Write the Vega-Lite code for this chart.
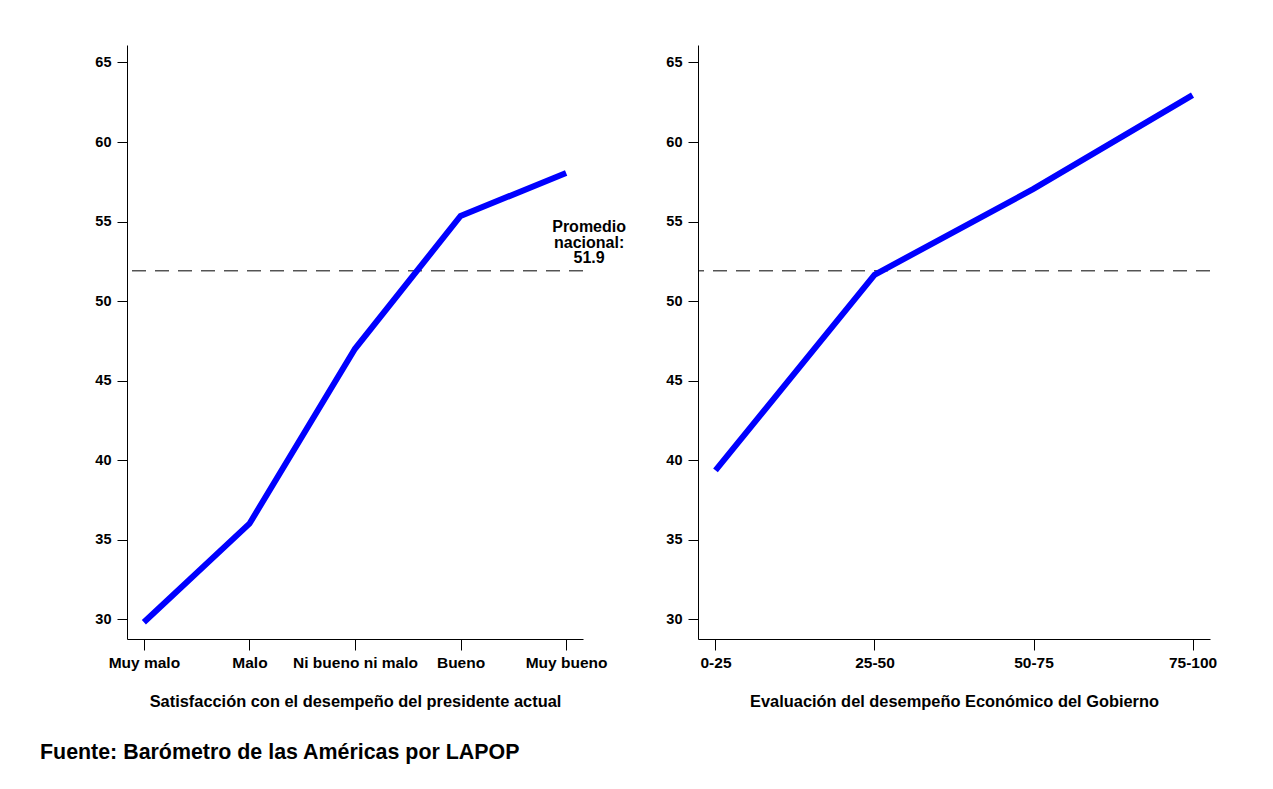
{
  "$schema": "https://vega.github.io/schema/vega-lite/v6.json",
  "background": "white",
  "padding": {"left": 40, "top": 45, "right": 20, "bottom": 20},
  "bounds": "flush",
  "spacing": 115,
  "title": {
    "text": "Fuente: Barómetro de las Américas por LAPOP",
    "orient": "bottom",
    "anchor": "start",
    "frame": "group",
    "dx": -87,
    "offset": 32,
    "font": "Liberation Sans",
    "fontSize": 21.4,
    "fontWeight": "bold",
    "color": "black"
  },
  "config": {
    "view": {"stroke": null},
    "axis": {
      "domainColor": "black",
      "domainWidth": 1,
      "tickColor": "black",
      "tickWidth": 1,
      "grid": false,
      "labelFont": "Liberation Sans",
      "labelFontWeight": "bold",
      "labelFontSize": 14.5,
      "labelColor": "black",
      "titleFont": "Liberation Sans",
      "titleFontWeight": "bold",
      "titleFontSize": 16.4,
      "titleColor": "black"
    },
    "axisX": {"tickSize": 11, "labelPadding": 5, "labelAngle": 0, "labelFontSize": 15.5, "titlePadding": 23},
    "axisY": {"tickSize": 10, "labelPadding": 6, "title": null}
  },
  "hconcat": [
    {
      "width": 456,
      "height": 594,
      "layer": [
        {
          "data": {"values": [{"promedio": 51.9}]},
          "mark": {"type": "rule", "color": "black", "strokeWidth": 1, "strokeDash": [14, 9]},
          "encoding": {"y": {"field": "promedio", "type": "quantitative", "scale": {"domain": [28.75, 66.1], "nice": false, "zero": false}}}
        },
        {
          "data": {"values": [
            {"cat": "Muy malo", "valor": 29.8},
            {"cat": "Malo", "valor": 36.0},
            {"cat": "Ni bueno ni malo", "valor": 47.0},
            {"cat": "Bueno", "valor": 55.35},
            {"cat": "Muy bueno", "valor": 58.05}
          ]},
          "mark": {"type": "line", "color": "#0000ff", "strokeWidth": 6},
          "encoding": {
            "x": {
              "field": "cat", "type": "ordinal",
              "sort": ["Muy malo", "Malo", "Ni bueno ni malo", "Bueno", "Muy bueno"],
              "scale": {"type": "point", "padding": 0.16},
              "title": "Satisfacción con el desempeño del presidente actual"
            },
            "y": {
              "field": "valor", "type": "quantitative",
              "scale": {"domain": [28.75, 66.1], "nice": false, "zero": false},
              "axis": {"values": [30, 35, 40, 45, 50, 55, 60, 65]}
            }
          }
        },
        {
          "data": {"values": [{"cat": "Muy bueno", "pos": 54.65, "etiqueta": ["Promedio", "nacional:", "51.9"]}]},
          "mark": {"type": "text", "font": "Liberation Sans", "fontWeight": "bold", "fontSize": 16, "color": "black", "align": "center", "baseline": "middle", "lineHeight": 15.5, "dx": 23},
          "encoding": {
            "x": {"field": "cat", "type": "ordinal", "sort": ["Muy malo", "Malo", "Ni bueno ni malo", "Bueno", "Muy bueno"]},
            "y": {"field": "pos", "type": "quantitative"},
            "text": {"field": "etiqueta"}
          }
        }
      ]
    },
    {
      "width": 512,
      "height": 594,
      "layer": [
        {
          "data": {"values": [{"promedio": 51.9}]},
          "mark": {"type": "rule", "color": "black", "strokeWidth": 1, "strokeDash": [14, 9]},
          "encoding": {"y": {"field": "promedio", "type": "quantitative", "scale": {"domain": [28.75, 66.1], "nice": false, "zero": false}}}
        },
        {
          "data": {"values": [
            {"cat": "0-25", "valor": 39.35},
            {"cat": "25-50", "valor": 51.65},
            {"cat": "50-75", "valor": 57.05},
            {"cat": "75-100", "valor": 62.95}
          ]},
          "mark": {"type": "line", "color": "#0000ff", "strokeWidth": 6},
          "encoding": {
            "x": {
              "field": "cat", "type": "ordinal",
              "sort": ["0-25", "25-50", "50-75", "75-100"],
              "scale": {"type": "point", "padding": 0.11},
              "title": "Evaluación del desempeño Económico del Gobierno"
            },
            "y": {
              "field": "valor", "type": "quantitative",
              "scale": {"domain": [28.75, 66.1], "nice": false, "zero": false},
              "axis": {"values": [30, 35, 40, 45, 50, 55, 60, 65]}
            }
          }
        }
      ]
    }
  ]
}
